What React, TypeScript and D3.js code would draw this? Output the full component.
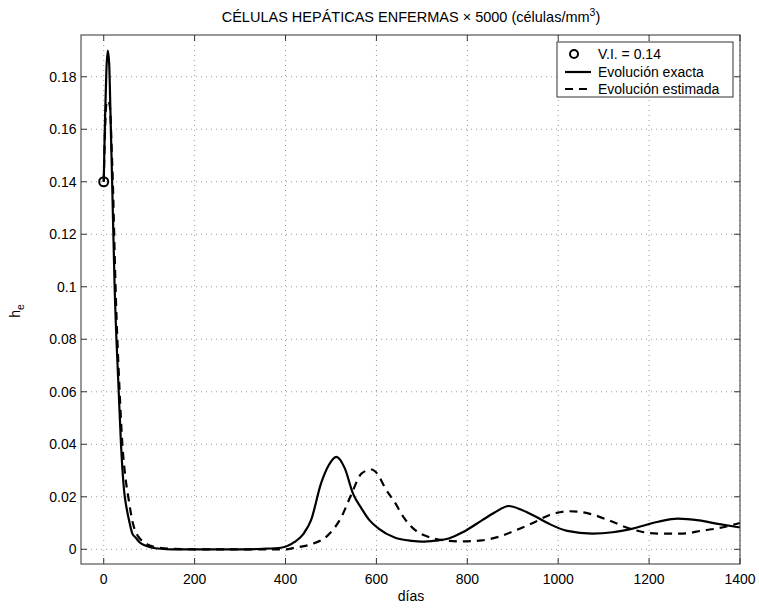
import React from "react";
import * as d3 from "d3";

const exactX = [0, 3, 6, 9, 12, 15, 18.5, 24, 33, 38, 45, 50, 57, 63, 70, 80, 90, 105, 125, 150, 200, 300, 350, 390, 420, 440, 456, 478, 495, 512, 530, 549, 567, 585, 604, 640, 678, 700, 730, 759, 790, 832, 860, 891, 920, 950, 980, 1020, 1075, 1120, 1164, 1220, 1263, 1310, 1348, 1400];
const exactY = [0.14, 0.165, 0.183, 0.19, 0.185, 0.165, 0.14, 0.1, 0.06, 0.04, 0.022, 0.016, 0.01, 0.006, 0.0045, 0.0025, 0.0015, 0.0007, 0.0002, 0.0, 0, 0, 0.0002, 0.0006, 0.0028, 0.006, 0.011, 0.025, 0.032, 0.0352, 0.031, 0.021, 0.0156, 0.011, 0.008, 0.0045, 0.0032, 0.0029, 0.0033, 0.0041, 0.0065, 0.011, 0.014, 0.0165, 0.015, 0.0125, 0.0097, 0.007, 0.006, 0.0065, 0.0079, 0.0105, 0.0117, 0.011, 0.0098, 0.0083];

const estX = [0, 3, 6, 10, 14, 17, 20, 26, 35, 41, 48, 54, 64, 72, 80, 90, 100, 120, 150, 200, 400, 420, 456, 493, 523, 545, 567, 589, 605, 618, 640, 662, 684, 715, 751, 788, 832, 870, 906, 943, 980, 1024, 1068, 1112, 1157, 1186, 1223, 1274, 1320, 1348, 1400];
const estY = [0.14, 0.16, 0.17, 0.171, 0.168, 0.155, 0.14, 0.1, 0.06, 0.04, 0.027, 0.02, 0.01, 0.006, 0.004, 0.0025, 0.0015, 0.0007, 0.0002, 0, 0, 0.0006, 0.0019, 0.0053, 0.0123, 0.021, 0.0288, 0.0304, 0.028, 0.0237, 0.018, 0.0117, 0.0075, 0.0047, 0.0034, 0.003, 0.0034, 0.0048, 0.0072, 0.0099, 0.013, 0.0145, 0.0136, 0.011, 0.0079, 0.0066, 0.006, 0.006, 0.0072, 0.0079, 0.01];

const xTicks = [0, 200, 400, 600, 800, 1000, 1200, 1400];
const yTicks = [0, 0.02, 0.04, 0.06, 0.08, 0.1, 0.12, 0.14, 0.16, 0.18];
const yTickLabels = ["0", "0.02", "0.04", "0.06", "0.08", "0.1", "0.12", "0.14", "0.16", "0.18"];
const legendLabels = ["V.I. = 0.14", "Evolución exacta", "Evolución estimada"];
const initialValue = [0, 0.14];

const W = 759, H = 608;
const L = 81, R = 740, T = 35, B = 564;

export default function App() {
  const x = d3.scaleLinear().domain([-50, 1400]).range([L, R]);
  const y = d3.scaleLinear().domain([-0.0056, 0.1959]).range([B, T]);
  const line = d3.line<[number, number]>().x(d => x(d[0])).y(d => y(d[1])).curve(d3.curveMonotoneX);
  const exact = exactX.map((v, i) => [v, exactY[i]] as [number, number]);
  const est = estX.map((v, i) => [v, estY[i]] as [number, number]);
  const font = "'Liberation Sans', Arial, Helvetica, sans-serif";
  const axisColor = "#333";
  const gridColor = "#999";
  const fs = 14;
  return (
    <svg width={W} height={H} style={{ position: "absolute", left: 0, top: 0, background: "#fff" }} fontFamily={font}>
      <rect x={0} y={0} width={W} height={H} fill="#fff" />
      {xTicks.map(t => (
        <line key={"gx" + t} x1={x(t)} x2={x(t)} y1={T} y2={B} stroke={gridColor} strokeWidth={1} strokeDasharray="1,4" />
      ))}
      {yTicks.map(t => (
        <line key={"gy" + t} x1={L} x2={R} y1={y(t)} y2={y(t)} stroke={gridColor} strokeWidth={1} strokeDasharray="1,4" />
      ))}
      <path d={line(exact) || ""} fill="none" stroke="#000" strokeWidth={2.2} strokeLinejoin="round" />
      <path d={line(est) || ""} fill="none" stroke="#000" strokeWidth={2.2} strokeDasharray="8,6" />
      <circle cx={x(initialValue[0])} cy={y(initialValue[1])} r={4.5} fill="none" stroke="#000" strokeWidth={2} />
      <rect x={L} y={T} width={R - L} height={B - T} fill="none" stroke={axisColor} strokeWidth={1} />
      {xTicks.map(t => (
        <g key={"tx" + t}>
          <line x1={x(t)} x2={x(t)} y1={B} y2={B - 6} stroke={axisColor} />
          <line x1={x(t)} x2={x(t)} y1={T} y2={T + 6} stroke={axisColor} />
          <text x={x(t)} y={B + 19.5} textAnchor="middle" fontSize={fs} fill="#000">{t}</text>
        </g>
      ))}
      {yTicks.map((t, i) => (
        <g key={"ty" + t}>
          <line x1={L} x2={L + 6} y1={y(t)} y2={y(t)} stroke={axisColor} />
          <line x1={R} x2={R - 6} y1={y(t)} y2={y(t)} stroke={axisColor} />
          <text x={L - 4.5} y={y(t) + 5} textAnchor="end" fontSize={fs} fill="#000">{yTickLabels[i]}</text>
        </g>
      ))}
      <text x={411} y={22} textAnchor="middle" fontSize={14.5} fill="#000">
        CÉLULAS HEPÁTICAS ENFERMAS × 5000 (células/mm<tspan dy={-6} fontSize={10.5}>3</tspan><tspan dy={6}>)</tspan>
      </text>
      <text x={411} y={601} textAnchor="middle" fontSize={fs} fill="#000">días</text>
      <text transform={`translate(19.5, 311) rotate(-90)`} textAnchor="middle" fontSize={fs} fill="#000">
        h<tspan dy={4} fontSize={10.5}>e</tspan>
      </text>
      <rect x={557} y={42} width={176} height={55} fill="#fff" stroke={axisColor} strokeWidth={1} />
      <circle cx={574} cy={54} r={4} fill="none" stroke="#000" strokeWidth={2} />
      <line x1={565} x2={591} y1={72} y2={72} stroke="#000" strokeWidth={2.2} />
      <line x1={565} x2={591} y1={89} y2={89} stroke="#000" strokeWidth={2.2} strokeDasharray="8,6" />
      {legendLabels.map((s, i) => (
        <text key={s} x={598} y={59 + i * 17.5} fontSize={fs} fill="#000">{s}</text>
      ))}
    </svg>
  );
}
